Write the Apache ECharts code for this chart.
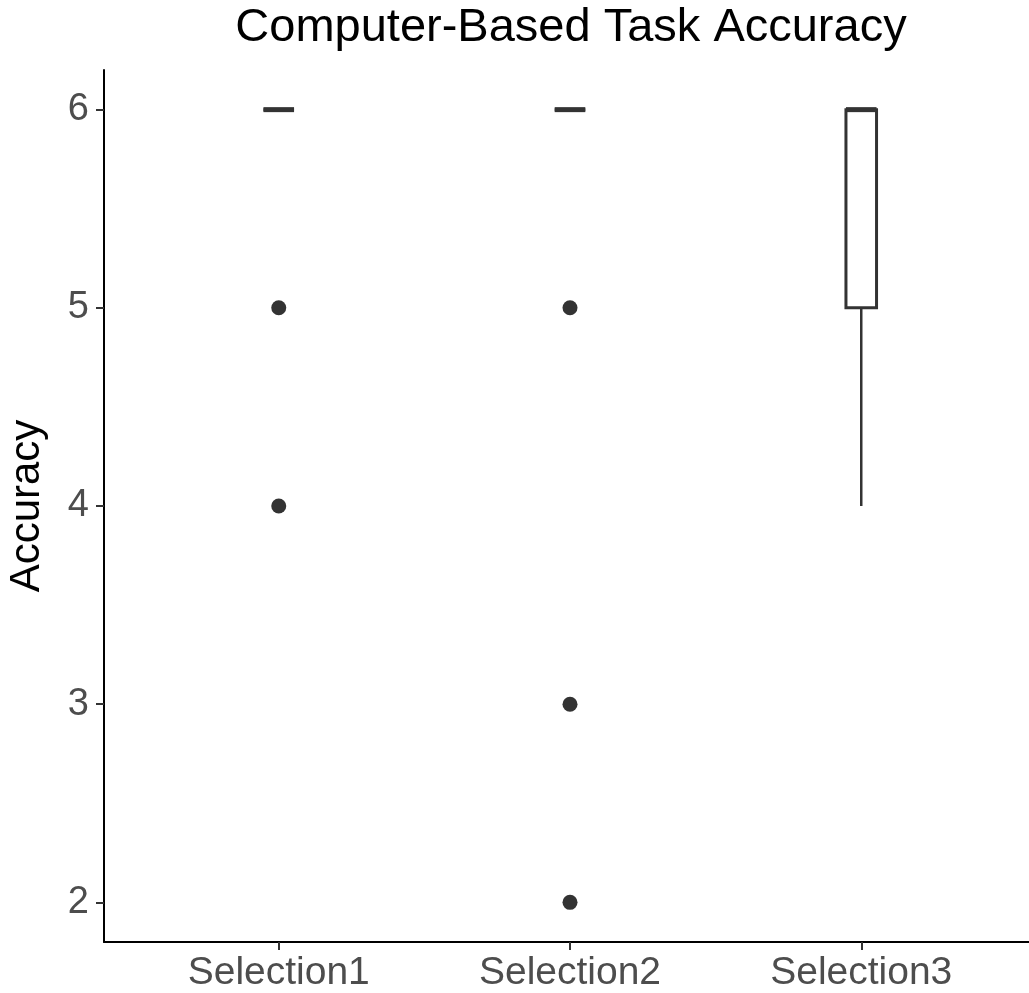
<!DOCTYPE html>
<html>
<head>
<meta charset="utf-8">
<script src="https://cdn.jsdelivr.net/npm/echarts@6/dist/echarts.min.js"></script>
<style>
  html, body { margin: 0; padding: 0; background: #fff; }
  #chart { width: 1029px; height: 993px; }
</style>
</head>
<body>
<div id="chart"></div>
<script>
var categories = ["Selection1", "Selection2", "Selection3"];
// [min, Q1, median, Q3, max] per category
var boxStats = [
    [6, 6, 6, 6, 6],
    [6, 6, 6, 6, 6],
    [4, 5, 6, 6, 6]
];
// outliers as [category index, value]
var outliers = [
    [0, 5], [0, 4],
    [1, 5], [1, 3], [1, 2]
];
var yTicks = [2, 3, 4, 5, 6];

var boxData = boxStats.map(function (s, i) {
    return [i].concat(s);
});

var renderBox = function (params, api) {
    var x = api.value(0);
    var half = api.size([0.105, 0])[0] / 2;
    var pMin = api.coord([x, api.value(1)]);
    var pQ1 = api.coord([x, api.value(2)]);
    var pMed = api.coord([x, api.value(3)]);
    var pQ3 = api.coord([x, api.value(4)]);
    var pMax = api.coord([x, api.value(5)]);
    var stroke = "#333333";
    var children = [];
    if (pMin[1] !== pQ1[1]) {
        children.push({
            type: "line",
            shape: { x1: pQ1[0], y1: pQ1[1], x2: pMin[0], y2: pMin[1] },
            style: { stroke: stroke, lineWidth: 2.5 }
        });
    }
    if (pMax[1] !== pQ3[1]) {
        children.push({
            type: "line",
            shape: { x1: pQ3[0], y1: pQ3[1], x2: pMax[0], y2: pMax[1] },
            style: { stroke: stroke, lineWidth: 2.5 }
        });
    }
    children.push({
        type: "rect",
        shape: { x: pQ3[0] - half, y: pQ3[1], width: half * 2, height: pQ1[1] - pQ3[1] },
        style: { fill: "#ffffff", stroke: stroke, lineWidth: 3 }
    });
    children.push({
        type: "line",
        shape: { x1: pMed[0] - half, y1: pMed[1], x2: pMed[0] + half, y2: pMed[1] },
        style: { stroke: stroke, lineWidth: 5 }
    });
    return { type: "group", children: children };
};

var option = {
    backgroundColor: "#ffffff",
    animation: false,
    title: {
        text: "Computer-Based Task Accuracy",
        left: 566,
        textAlign: "center",
        top: 0,
        textStyle: {
            fontFamily: "Liberation Sans",
            fontSize: 47,
            fontWeight: "normal",
            color: "#000000"
        }
    },
    grid: {
        left: 104,
        top: 70,
        width: 932,
        height: 872,
        containLabel: false,
        outerBoundsMode: "none"
    },
    xAxis: {
        type: "value",
        min: -0.6,
        max: 2.6,
        splitLine: { show: false },
        axisLine: { onZero: false, lineStyle: { color: "#000000", width: 2 } },
        axisTick: {
            customValues: [0, 1, 2],
            length: 8,
            lineStyle: { color: "#333333", width: 2 }
        },
        axisLabel: {
            customValues: [0, 1, 2],
            margin: 12,
            fontFamily: "Liberation Sans",
            fontSize: 39,
            color: "#4D4D4D",
            formatter: function (v) {
                return categories[Math.round(v)];
            }
        }
    },
    yAxis: {
        type: "value",
        min: 1.8,
        max: 6.2,
        name: "Accuracy",
        nameLocation: "middle",
        nameGap: 56,
        nameTextStyle: {
            fontFamily: "Liberation Sans",
            fontSize: 42,
            color: "#000000"
        },
        splitLine: { show: false },
        axisLine: { onZero: false, lineStyle: { color: "#000000", width: 2 } },
        axisTick: {
            customValues: yTicks,
            length: 8,
            lineStyle: { color: "#333333", width: 2 }
        },
        axisLabel: {
            customValues: yTicks,
            margin: 15,
            fontFamily: "Liberation Sans",
            fontSize: 38,
            color: "#4D4D4D"
        }
    },
    series: [
        {
            type: "custom",
            renderItem: renderBox,
            data: boxData,
            encode: { x: 0, y: [1, 2, 3, 4, 5] },
            z: 2
        },
        {
            type: "scatter",
            data: outliers,
            symbol: "circle",
            symbolSize: 15,
            itemStyle: { color: "#333333", opacity: 1 },
            z: 3
        }
    ]
};

var myChart = echarts.init(document.getElementById("chart"));
myChart.setOption(option);
</script>
</body>
</html>
